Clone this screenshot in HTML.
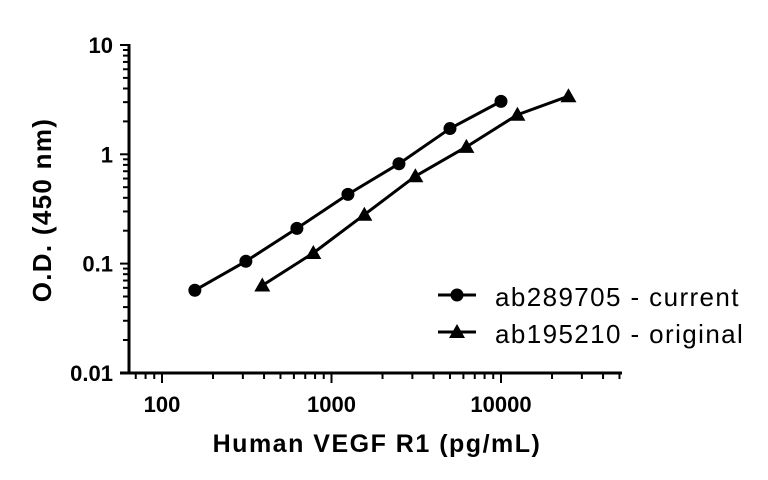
<!DOCTYPE html>
<html><head><meta charset="utf-8"><style>
html,body{margin:0;padding:0;background:#fff;}
svg{display:block;font-family:"Liberation Sans",sans-serif;}
</style></head><body>
<svg id="chart" width="768" height="480">
<g id="axes"></g><g id="series"></g>
<text x="377" y="452" text-anchor="middle" font-size="25" font-weight="bold" letter-spacing="1.5">Human VEGF R1 (pg/mL)</text>
<text transform="translate(51,210) rotate(-90)" text-anchor="middle" font-size="26" font-weight="bold" letter-spacing="1.3">O.D. (450 nm)</text>
<g>
<line x1="438" y1="295" x2="476" y2="295" stroke="#000" stroke-width="3"/>
<circle cx="457" cy="295" r="6.5" fill="#000"/>
<text x="495" y="306" font-size="26" letter-spacing="1.4">ab289705 - current</text>
<line x1="438" y1="332" x2="476" y2="332" stroke="#000" stroke-width="3"/>
<polygon points="457,324 465,338 449,338" fill="#000"/>
<text x="495" y="343" font-size="26" letter-spacing="1.4">ab195210 - original</text>
</g>
</svg>
<script>
const xCurrent=[156.25,312.5,625,1250,2500,5000,10000];
const yCurrent=[0.057,0.105,0.21,0.43,0.82,1.72,3.05];
const xOriginal=[390.6,781.25,1562.5,3125,6250,12500,25000];
const yOriginal=[0.063,0.125,0.28,0.63,1.17,2.3,3.4];
const xTickLabels=["100","1000","10000"];
const xTickValues=[100,1000,10000];
const yTickLabels=["0.01","0.1","1","10"];
const yTickValues=[0.01,0.1,1,10];
const NS="http://www.w3.org/2000/svg";
function X(v){return 162+(Math.log10(v)-2)*169.5;}
function Y(v){return 45+(1-Math.log10(v))*109.3;}
const axes=document.getElementById('axes'),ser=document.getElementById('series');
function mk(tag,at,parent){const e=document.createElementNS(NS,tag);for(const k in at)e.setAttribute(k,at[k]);parent.appendChild(e);return e;}
let l=mk('line',{x1:129,y1:44,x2:129,y2:374,stroke:'#000','stroke-width':3},axes);


l=mk('line',{x1:120,y1:373,x2:622,y2:373,stroke:'#000','stroke-width':3},axes);


for(let d=-2;d<=0;d++)for(let m=1;m<=9;m++){const v=m*Math.pow(10,d);const y=Y(v);
 mk('line',{x1:m==1?120:123,y1:y,x2:129,y2:y,stroke:'#000','stroke-width':2},axes);}
mk('line',{x1:120,y1:Y(10),x2:129,y2:Y(10),stroke:'#000','stroke-width':2},axes);
for(let d=1;d<=4;d++)for(let m=1;m<=9;m++){const v=m*Math.pow(10,d);const x=X(v);
 if(x<132||x>621)continue;
 mk('line',{x1:x,y1:373,x2:x,y2:m==1?383:379,stroke:'#000','stroke-width':2},axes);}
xTickValues.forEach((v,i)=>{const t=mk('text',{x:X(v),y:412,'text-anchor':'middle','font-size':22,'font-weight':'bold'},axes);t.textContent=xTickLabels[i];

});
yTickValues.forEach((v,i)=>{const t=mk('text',{x:113,y:Y(v)+8,'text-anchor':'end','font-size':22,'font-weight':'bold'},axes);t.textContent=yTickLabels[i];

});
function draw(xs,ys,shape,name){
 const p=xs.map((x,i)=>X(x)+','+Y(ys[i])).join(' ');
 const pl=mk('polyline',{points:p,fill:'none',stroke:'#000','stroke-width':3,'stroke-linejoin':'round'},ser);
 
 
 xs.forEach((x,i)=>{const cx=X(x),cy=Y(ys[i]);let m;
  if(shape=='c')m=mk('circle',{cx:cx,cy:cy,r:6.5,fill:'#000'},ser);
  else m=mk('polygon',{points:`${cx},${cy-8} ${cx+8},${cy+6} ${cx-8},${cy+6}`,fill:'#000'},ser);
  
  });
}
draw(xCurrent,yCurrent,'c','current');
draw(xOriginal,yOriginal,'t','original');
</script>
</body></html>
